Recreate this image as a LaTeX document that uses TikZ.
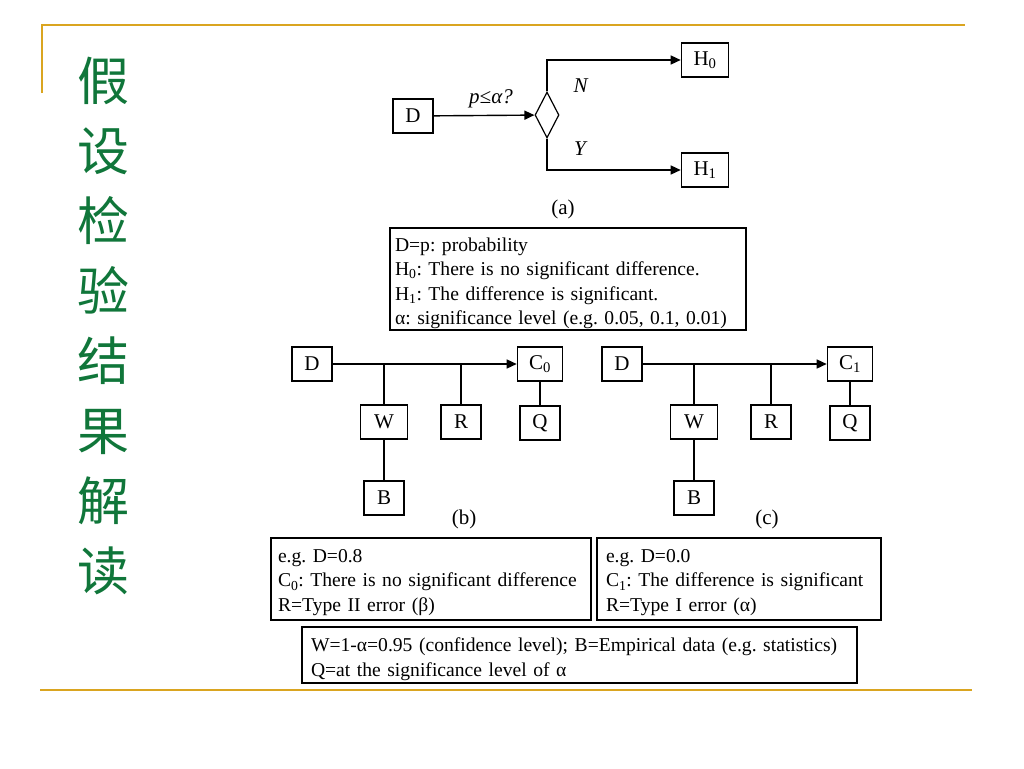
\documentclass[tikz,border=0pt]{standalone}
\usepackage{fontspec}
\setmainfont{Liberation Serif}
\newfontfamily\cjk{Noto Sans CJK SC}
\usetikzlibrary{arrows.meta,shapes.geometric}
\definecolor{gold}{RGB}{218,165,32}
\definecolor{titlegreen}{RGB}{16,118,58}
\frenchspacing
\newcommand\mynohyph{\hyphenpenalty10000\relax}
\newcommand\mystrut[1]{\rule{0pt}{#1}}
\begin{document}
\begin{tikzpicture}[x=1pt,y=-1pt,
  box/.style={draw,line width=1.6pt,minimum width=40pt,minimum height=34pt,inner sep=0pt,font=\fontsize{21}{24}\selectfont},
  conn/.style={line width=1.4pt},
  arr/.style={conn,-{Triangle[length=10pt,width=9pt]}},
  lbl/.style={inner sep=0pt,font=\fontsize{21}{24}\selectfont},
  txtbox/.style={draw,line width=1.6pt,align=left,inner ysep=0pt,font=\fontsize{19.6}{24.4}\selectfont\frenchspacing\mynohyph}]
\useasboundingbox (0,0) rectangle (1024,768);
% frame lines
\draw[gold,line width=2pt] (42,93) -- (42,25) -- (965,25);
\draw[gold,line width=2pt] (40,690) -- (972,690);
% title
\node[titlegreen,align=center,font=\cjk\fontsize{52}{70}\selectfont,inner sep=0pt] (title) at (103,326) {假\\设\\检\\验\\结\\果\\解\\读};
% (a)
\node[box] (Da) at (413,116) {D};
\node[draw,diamond,line width=1.2pt,minimum width=24pt,minimum height=46pt,inner sep=0pt] (dia) at (547,115) {};
\node[box,minimum width=47pt] (H0) at (705,60) {H\textsubscript{0}};
\node[box,minimum width=47pt] (H1) at (705,170) {H\textsubscript{1}};
\draw[arr] (Da) -- (dia);
\draw[arr] (dia.north) |- (H0);
\draw[arr] (dia.south) |- (H1);
\node[lbl] (pa) at (491,99) {\textit{p≤α?}};
\node[lbl] (N) at (581,86) {\textit{N}};
\node[lbl] (Y) at (581,149) {\textit{Y}};
\node[lbl] (la) at (563,209) {(a)};
% definitions box
\node[txtbox,minimum width=356pt,minimum height=102pt,text width=346pt,inner xsep=5pt] (defs) at (568,279)
  {\mystrut{22pt}D=p: probability\\H\textsubscript{0}: There is no significant difference.\\H\textsubscript{1}: The difference is significant.\\α: significance level (e.g. 0.05, 0.1, 0.01)};
% (b)
\node[box] (Db) at (312,364) {D};
\node[box,minimum width=45pt] (C0) at (540,364) {C\textsubscript{0}};
\node[box,minimum width=47pt] (Wb) at (384,422) {W};
\node[box] (Rb) at (461,422) {R};
\node[box] (Qb) at (540,423) {Q};
\node[box] (Bb) at (384,498) {B};
\draw[arr] (Db) -- (C0);
\draw[conn] (Wb.north) -- (Wb.north |- Db.east);
\draw[conn] (Rb.north) -- (Rb.north |- Db.east);
\draw[conn] (C0) -- (Qb);
\draw[conn] (Wb) -- (Bb);
\node[lbl] (lb) at (464,519) {(b)};
% (c)
\node[box] (Dc) at (622,364) {D};
\node[box,minimum width=45pt] (C1) at (850,364) {C\textsubscript{1}};
\node[box,minimum width=47pt] (Wc) at (694,422) {W};
\node[box] (Rc) at (771,422) {R};
\node[box] (Qc) at (850,423) {Q};
\node[box] (Bc) at (694,498) {B};
\draw[arr] (Dc) -- (C1);
\draw[conn] (Wc.north) -- (Wc.north |- Dc.east);
\draw[conn] (Rc.north) -- (Rc.north |- Dc.east);
\draw[conn] (C1) -- (Qc);
\draw[conn] (Wc) -- (Bc);
\node[lbl] (lc) at (767,519) {(c)};
% bottom boxes
\node[txtbox,minimum width=318pt,minimum height=82pt,text width=306pt,inner xsep=7pt] (ex1) at (431,579)
  {\mystrut{20pt}e.g. D=0.8\\C\textsubscript{0}: There is no significant difference\\R=Type II error (β)};
\node[txtbox,minimum width=282pt,minimum height=82pt,text width=266pt,inner xsep=9pt] (ex2) at (739,579)
  {\mystrut{20pt}e.g. D=0.0\\C\textsubscript{1}: The difference is significant\\R=Type I error (α)};
\node[txtbox,minimum width=553pt,minimum height=56pt,text width=537pt,inner xsep=9pt] (ex3) at (579.5,655)
  {\mystrut{22pt}W=1-α=0.95 (confidence level); B=Empirical data (e.g. statistics)\\Q=at the significance level of α};
\end{tikzpicture}
\end{document}
